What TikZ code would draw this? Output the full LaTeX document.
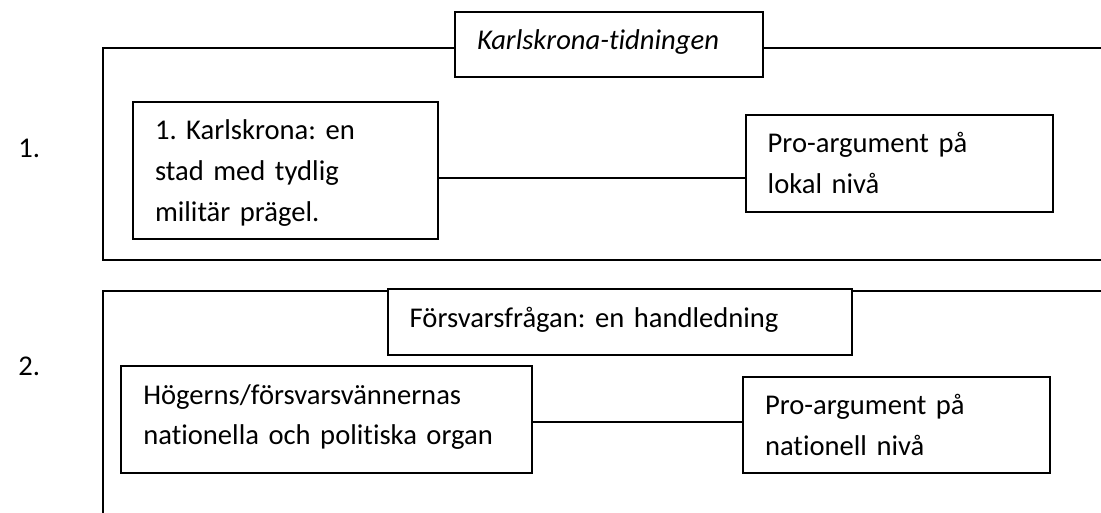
\documentclass[tikz,border=0pt]{standalone}
\usepackage{fontspec}
\setmainfont{Carlito}[Ligatures=NoCommon]
\frenchspacing
\begin{document}
\begin{tikzpicture}[x=1pt, y=-1pt, line width=2pt,
        ruta/.style={draw, anchor=north west, align=left, inner xsep=22pt, inner ysep=0pt,
            outer sep=0pt, text height=38pt, font=\fontsize{28.6}{40.6}\selectfont},
        siffra/.style={anchor=base west, font=\fontsize{28.6}{40.6}\selectfont}]
        \useasboundingbox (0, 0) rectangle (1101, 513);
        % rad 1
        \node[siffra] at(14, 158) (n1) {1.};
        \node[ruta, minimum width=307.5pt, text width=263.5pt, text depth=27.5pt] at(455, 11.7) (tidning) {\textit{Karlskrona-tidningen}};
        \node[ruta, minimum width=304.7pt, text width=260.7pt, text depth=99pt] at(133, 102) (stad) {1. Karlskrona: en\\stad med tydlig\\militär prägel.};
        \node[ruta, minimum width=307.6pt, text width=263.6pt, text depth=59.6pt] at(745.7, 114.7) (lokal) {Pro-argument på\\lokal nivå};
        \draw (tidning.west |- 0, 48.5) -- (102.7, 48.5) -- (102.7, 260) -- (1101, 260);
        \draw (tidning.east |- 0, 48.5) -- (1101, 48.5);
        \draw ([yshift=-7.5pt]stad.east) -- ([yshift=-7.5pt]stad.east -| lokal.west);
        % rad 2
        \node[siffra] at(14, 375) (n2) {2.};
        \node[ruta, minimum width=464pt, text width=420pt, text depth=28pt] at(387.7, 289) (handledning) {Försvarsfrågan: en handledning};
        \node[ruta, minimum width=410.3pt, text width=366.3pt, text depth=69pt] at(121.3, 366) (organ) {Högerns/försvarsvännernas\\nationella och politiska organ};
        \node[ruta, minimum width=307pt, text width=263pt, text depth=58.3pt] at(743, 376.7) (nationell) {Pro-argument på\\nationell nivå};
        \draw (handledning.west |- 0, 291) -- (102.7, 291) -- (102.7, 513);
        \draw (handledning.east |- 0, 291) -- (1101, 291);
        \draw ([yshift=-2.8pt]organ.east) -- ([yshift=-2.8pt]organ.east -| nationell.west);
    \end{tikzpicture}
\end{document}
